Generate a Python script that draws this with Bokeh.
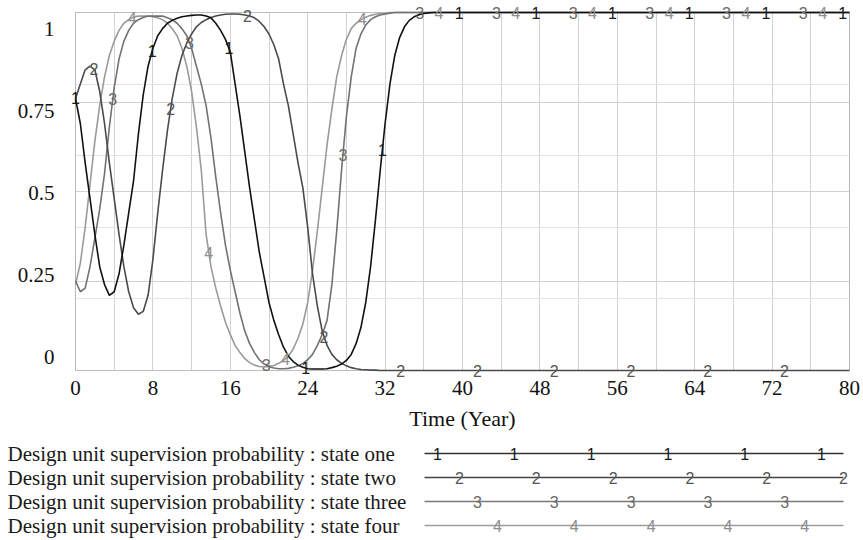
import numpy as np
from bokeh.plotting import figure
from bokeh.models import (Range1d, LinearAxis, FixedTicker, Grid, ColumnDataSource,
                          LabelSet, NumeralTickFormatter, BoxAnnotation)
from bokeh.layouts import column
from bokeh.core.properties import value
from bokeh.embed import file_html
from bokeh.resources import INLINE

# ---------------- data ----------------
# time grid (years): every half year up to 40, then every 4 years
years = [i * 0.5 for i in range(81)] + [44, 48, 52, 56, 60, 64, 68, 72, 76, 80]

state_one = [
    0.76, 0.69, 0.58, 0.48, 0.38, 0.29, 0.24, 0.21, 0.22, 0.27,
    0.35, 0.44, 0.53, 0.66, 0.77, 0.85, 0.90, 0.935, 0.955, 0.97,
    0.978, 0.984, 0.988, 0.99, 0.992, 0.993, 0.993, 0.99, 0.985, 0.97,
    0.95, 0.925, 0.89, 0.80, 0.71, 0.61, 0.51, 0.42, 0.33, 0.26,
    0.19, 0.14, 0.10, 0.065, 0.04, 0.025, 0.015, 0.009, 0.005, 0.004,
    0.004, 0.004, 0.005, 0.008, 0.012, 0.018, 0.028, 0.045, 0.075, 0.12,
    0.19, 0.29, 0.42, 0.56, 0.69, 0.80, 0.88, 0.93, 0.96, 0.978,
    0.988, 0.994, 0.997, 0.999, 1, 1, 1, 1, 1, 1,
    1,
    1, 1, 1, 1, 1, 1, 1, 1, 1, 1,
]
state_two = [
    0.76, 0.80, 0.84, 0.85, 0.84, 0.78, 0.69, 0.58, 0.48, 0.38,
    0.29, 0.22, 0.175, 0.157, 0.165, 0.21, 0.31, 0.44, 0.56, 0.67,
    0.76, 0.83, 0.88, 0.915, 0.94, 0.96, 0.972, 0.98, 0.986, 0.99,
    0.993, 0.995, 0.996, 0.996, 0.995, 0.993, 0.99, 0.985, 0.975, 0.96,
    0.94, 0.91, 0.87, 0.80, 0.74, 0.66, 0.58, 0.51, 0.40, 0.27,
    0.18, 0.11, 0.07, 0.045, 0.03, 0.02, 0.013, 0.008, 0.005, 0.003,
    0.002, 0.001, 0.001, 0, 0, 0, 0, 0, 0, 0,
    0, 0, 0, 0, 0, 0, 0, 0, 0, 0,
    0,
    0, 0, 0, 0, 0, 0, 0, 0, 0, 0,
]
state_three = [
    0.25, 0.22, 0.23, 0.29, 0.37, 0.45, 0.55, 0.68, 0.79, 0.87,
    0.92, 0.95, 0.97, 0.98, 0.986, 0.99, 0.99, 0.99, 0.99, 0.985,
    0.98, 0.97, 0.955, 0.935, 0.90, 0.85, 0.80, 0.74, 0.65, 0.54,
    0.44, 0.35, 0.28, 0.22, 0.16, 0.11, 0.075, 0.05, 0.03, 0.018,
    0.011, 0.007, 0.005, 0.005, 0.006, 0.009, 0.013, 0.02, 0.03, 0.045,
    0.07, 0.10, 0.14, 0.24, 0.39, 0.56, 0.71, 0.82, 0.90, 0.94,
    0.965, 0.98, 0.988, 0.993, 0.996, 0.998, 1, 1, 1, 1,
    1, 1, 1, 1, 1, 1, 1, 1, 1, 1,
    1,
    1, 1, 1, 1, 1, 1, 1, 1, 1, 1,
]
state_four = [
    0.24, 0.30, 0.40, 0.52, 0.64, 0.74, 0.82, 0.88, 0.92, 0.95,
    0.97, 0.98, 0.987, 0.99, 0.99, 0.99, 0.988, 0.985, 0.98, 0.97,
    0.955, 0.935, 0.90, 0.85, 0.78, 0.68, 0.56, 0.38, 0.29, 0.23,
    0.18, 0.135, 0.10, 0.07, 0.05, 0.033, 0.022, 0.015, 0.011, 0.01,
    0.011, 0.014, 0.02, 0.028, 0.04, 0.06, 0.09, 0.13, 0.19, 0.28,
    0.39, 0.51, 0.63, 0.73, 0.82, 0.88, 0.925, 0.955, 0.97, 0.98,
    0.987, 0.992, 0.995, 0.997, 0.998, 1, 1, 1, 1, 1,
    1, 1, 1, 1, 1, 1, 1, 1, 1, 1,
    1,
    1, 1, 1, 1, 1, 1, 1, 1, 1, 1,
]

series_names = [
    "Design unit supervision probability : state one",
    "Design unit supervision probability : state two",
    "Design unit supervision probability : state three",
    "Design unit supervision probability : state four",
]
series_marks = ["1", "2", "3", "4"]
x_ticks = [0, 8, 16, 24, 32, 40, 48, 56, 64, 72, 80]
y_ticks = [0, 0.25, 0.5, 0.75, 1]
t_start, t_end = 0, 80
v_start, v_end = 0, 1

# ---------------- style ----------------
line_colors = ["#111111", "#4a4a4a", "#727272", "#9a9a9a"]
mark_colors = ["#1a1a1a", "#555555", "#6a6a6a", "#8e8e8e"]
legend_line_colors = ["#333333", "#444444", "#7a7a7a", "#9c9c9c"]
mark_offsets = [0.0, 1.9, 3.85, 5.85]
mark_step = 7.93
serif = value("Liberation Serif")
sans = value("Liberation Sans")

# frame is padded by 8px on every side so the series marks are not clipped;
# the 0..80 x 0..1 box is drawn as an annotation and the padding masked white
pad_x = 8 / 9.675
pad_y = 8 / 358.0
p = figure(width=863, height=440,
           x_range=Range1d(t_start - pad_x, t_end + pad_x),
           y_range=Range1d(v_start - pad_y, v_end + pad_y),
           output_backend="svg", toolbar_location=None, y_axis_location=None,
           min_border_left=67, min_border_right=6, min_border_top=4,
           min_border_bottom=62, background_fill_color="white",
           border_fill_color="white")
p.outline_line_color = None

# x axis
p.xaxis.ticker = FixedTicker(ticks=x_ticks)
p.xaxis.axis_line_color = None
p.xaxis.major_tick_line_color = None
p.xaxis.minor_tick_line_color = None
p.xaxis.major_tick_out = 0
p.xaxis.major_tick_in = 0
p.xaxis.major_label_standoff = 2
p.xaxis.major_label_text_font = "Liberation Serif"
p.xaxis.major_label_text_font_size = "21px"
p.xaxis.major_label_text_color = "#111111"
p.xaxis.axis_label = "Time (Year)"
p.xaxis.axis_label_text_font = "Liberation Serif"
p.xaxis.axis_label_text_font_size = "22px"
p.xaxis.axis_label_text_font_style = "normal"
p.xaxis.axis_label_text_color = "#111111"
p.xaxis.axis_label_standoff = 8

p.xgrid.ticker = FixedTicker(ticks=list(range(0, 81, 4)))
p.xgrid.grid_line_color = "#d2d2d2"
p.add_layout(Grid(dimension=1, ticker=FixedTicker(ticks=[0.25, 0.5, 0.75]),
                  grid_line_color="#d2d2d2"))

# white masks over the padding (above grid, below the curves)
for kw in [dict(top=v_start), dict(bottom=v_end), dict(right=t_start), dict(left=t_end)]:
    p.add_layout(BoxAnnotation(fill_color="white", fill_alpha=1, line_color=None,
                               level="underlay", **kw))
# frame box
p.add_layout(BoxAnnotation(left=t_start, right=t_end, bottom=v_start, top=v_end,
                           fill_color=None, fill_alpha=0, line_color="#444444",
                           line_width=1, level="underlay"))

# y axis (labels spread inside the box as in the original)
p.extra_y_ranges = {"lab": Range1d(-22 / 328.0, 1 + 24 / 328.0)}
yax = LinearAxis(y_range_name="lab", ticker=FixedTicker(ticks=y_ticks),
                 formatter=NumeralTickFormatter(format="0.[00]"))
yax.axis_line_color = None
yax.major_tick_line_color = None
yax.minor_tick_line_color = None
yax.major_tick_out = 0
yax.major_tick_in = 0
yax.major_label_standoff = 13
yax.major_label_text_font = "Liberation Serif"
yax.major_label_text_font_size = "21px"
yax.major_label_text_color = "#111111"
p.add_layout(yax, "left")

all_series = [state_one, state_two, state_three, state_four]
for i in [3, 2, 1, 0]:
    p.line(years, all_series[i], line_color=line_colors[i], line_width=1.6)

for i in range(4):
    ts = []
    t = mark_offsets[i]
    while t <= 80:
        ts.append(t)
        t += mark_step
    ys = list(np.interp(ts, years, all_series[i]))
    src = ColumnDataSource(dict(x=ts, y=ys, t=[series_marks[i]] * len(ts)))
    p.add_layout(LabelSet(x="x", y="y", text="t", source=src,
                          text_font=sans, text_font_size="16px",
                          text_color=mark_colors[i], text_align="center",
                          text_baseline="middle"))

# ---------------- legend panel ----------------
q = figure(width=863, height=100, x_range=Range1d(0, 863), y_range=Range1d(540, 440),
           output_backend="svg", toolbar_location=None, min_border=0,
           min_border_left=0, min_border_right=0,
           x_axis_location=None, y_axis_location=None, outline_line_color=None,
           background_fill_color="white", border_fill_color="white")
q.grid.visible = False
row_y = [453, 477, 501, 525]
q.text(x=[7] * 4, y=row_y, text=series_names, text_font=serif,
       text_font_size="21px", text_align="left", text_baseline="middle",
       text_color="#1a1a1a")
q.segment(x0=[424] * 4, y0=row_y, x1=[843] * 4, y1=row_y,
          line_color=legend_line_colors, line_width=1.6)
mark_start = [437, 459, 477, 497]
for i in range(4):
    xs = []
    xx = mark_start[i]
    while xx <= 845:
        xs.append(xx)
        xx += 76.8
    q.text(x=xs, y=[row_y[i]] * len(xs), text=[series_marks[i]] * len(xs),
           text_font=sans, text_font_size="16px", text_align="center",
           text_baseline="middle", text_color=mark_colors[i])

layout = column(p, column(q))
open("out.html", "w").write(file_html(layout, INLINE))
